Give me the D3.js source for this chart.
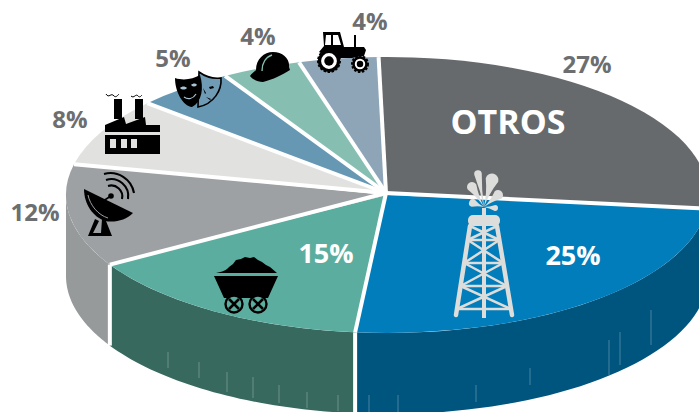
<!DOCTYPE html>
<html><head><meta charset="utf-8">
<script src="https://cdn.jsdelivr.net/npm/d3@7"></script>
<style>html,body{margin:0;padding:0;background:#fff;overflow:hidden}svg{display:block}text{font-family:"Open Sans",sans-serif;font-weight:700}</style>
</head><body><svg id="c" width="699" height="412"></svg>
<script>
const sectors=["Otros","Petróleo","Minería","Telecomunicaciones","Industria","Cultura","Construcción","Agricultura"];
const shares=[27,25,15,12,8,5,4,4];
const topColors=["#676a6c","#007dba","#5bae9f","#9da1a4","#e1e1df","#6698b4","#86bfb2","#8ea4b7"];
const sideColors=["#4a4c4e","#00557e","#37695f","#979a9b","#b5b5b3","#4d7388","#648f86","#6b7b89"];
const labels=["27%","25%","15%","12%","8%","5%","4%","4%"];

const W=699,H=412,cx=387,cy=195,rx=321,ry=138,depth=81;
const svg=d3.select("#c");
const rot=1.5*Math.PI/180;
const pie=d3.pie().sort(null).startAngle(-rot).endAngle(2*Math.PI-rot);
const arcs=pie(shares);
const P=(a,dy=0)=>[cx+rx*Math.sin(a),cy-ry*Math.cos(a)+dy];

// walls of the visible (front) half
const lineGen=d3.line();
const wall=svg.append("g");
arcs.forEach((d,i)=>{
  const a0=Math.max(d.startAngle,Math.PI/2),a1=Math.min(d.endAngle,3*Math.PI/2);
  if(a1<=a0)return;
  const as=d3.range(0,41).map(k=>a0+(a1-a0)*k/40);
  const pts=as.map(a=>P(a)).concat(as.slice().reverse().map(a=>P(a,depth)));
  wall.append("path").attr("d",lineGen(pts)+"Z").attr("fill",sideColors[i]);
});
// faint vertical streaks visible on the walls of the original
[[168,352,368],[199,362,378],[227,372,392],[253,377,398],[279,385,403],[307,392,408],[338,395,411],[369,395,412],[398,395,412],[476,385,402],[530,368,385],[609,340,375],[620,332,365],[651,310,345]].forEach(([x,y1,y2])=>{
  wall.append("line").attr("x1",x).attr("x2",x).attr("y1",y1).attr("y2",y2).attr("stroke","#fff").attr("stroke-opacity",.28).attr("stroke-width",1);
});
arcs.forEach(d=>{
  const a=d.endAngle;
  if(a>Math.PI/2&&a<3*Math.PI/2){
    wall.append("path").attr("d",lineGen([P(a),P(a,depth)])).attr("stroke","#fff").attr("stroke-width",4).attr("fill","none");
  }
});

// top face
const arcGen=d3.arc().innerRadius(0).outerRadius(1);
const topFace=svg.append("g").attr("transform",`translate(${cx},${cy}) scale(${rx},${ry})`);
topFace.selectAll("path").data(arcs).join("path").attr("d",arcGen).attr("fill",(d,i)=>topColors[i]);
const seps=svg.append("g");
arcs.forEach(d=>{
  seps.append("path").attr("d",lineGen([[cx-1,cy-2],P(d.endAngle)])).attr("stroke","#fff").attr("stroke-width",4).attr("fill","none");
});

// labels
const labelPos=[[587,73],[573,265],[326,263],[35,221],[70,128],[173,67],[258,45],[370,30]];
const labelFill=["#6d6e70","#fff","#fff","#6d6e70","#6d6e70","#6d6e70","#6d6e70","#6d6e70"];
const labelSize=[24,27,27,24,24,24,24,24];
labels.forEach((t,i)=>{
  svg.append("text").attr("x",labelPos[i][0]).attr("y",labelPos[i][1]).attr("text-anchor","middle")
    .attr("font-size",labelSize[i]).attr("fill",labelFill[i]).text(t);
});
svg.append("text").attr("x",508).attr("y",134).attr("text-anchor","middle").attr("font-size",34).attr("fill","#fff").text("OTROS");

// ---------- pictograms ----------
const ic=svg.append("g");
const K="#000";
// derrick
const G="#dddddb",der=ic.append("g");
const leg=(y,s)=>s<0?470-14*(y-226)/89:497+15*(y-226)/89;
const ds=(x1,y1,x2,y2,w=3)=>der.append("line").attr("x1",x1).attr("y1",y1).attr("x2",x2).attr("y2",y2).attr("stroke",G).attr("stroke-width",w).attr("stroke-linecap","round");
der.append("rect").attr("x",468).attr("y",215).attr("width",32).attr("height",11).attr("rx",5).attr("fill",G);
der.append("rect").attr("x",482).attr("y",208).attr("width",4).attr("height",110).attr("fill",G);
ds(470,226,456,315,4.5);ds(497,226,512,315,4.5);
const ys=[240,263,286,309];
ys.forEach((y,i)=>{
  ds(leg(y,-1),y,leg(y,1),y,2.5);
  if(i<3){ds(leg(y,-1),y,leg(ys[i+1],1),ys[i+1],2.5);ds(leg(y,1),y,leg(ys[i+1],-1),ys[i+1],2.5);}
});
ds(leg(226,-1),226,leg(240,1),240,2.5);ds(leg(226,1),226,leg(240,-1),240,2.5);
const base=[484,207];
[[478,174,3.8],[472,187,5],[492,180,6.5],[498,195,5],[473,203,4],[495,208,3]].forEach(([x,y,r])=>{
  const a=Math.atan2(y-base[1],x-base[0]),nx=-Math.sin(a)*r,ny=Math.cos(a)*r;
  der.append("path").attr("fill",G).attr("d",`M${base[0]},${base[1]}Q${(x+base[0])/2+nx*.15},${(y+base[1])/2+ny*.15} ${x+nx},${y+ny}A${r},${r} 0 1 0 ${x-nx},${y-ny}Q${(x+base[0])/2-nx*.15},${(y+base[1])/2-ny*.15} ${base[0]},${base[1]}Z`);
});

// mine cart
const cart=ic.append("g");
cart.append("path").attr("fill",K).attr("d","M216,273C222,272 227,270 229,267L233,264L236,260L241,259L245,257L250,258L254,257L258,260L262,262L266,265L270,267L277,273Z");
cart.append("path").attr("fill",K).attr("d","M214,276H278L268,298H224Z");
[234,258].forEach(x=>{
  const w=cart.append("g").attr("transform",`translate(${x},304)`);
  w.append("circle").attr("r",8.5).attr("fill","#5bae9f").attr("stroke",K).attr("stroke-width",2.4);
  w.append("path").attr("d","M-5,-5L5,5M-5,5L5,-5").attr("stroke",K).attr("stroke-width",2.6);
  w.append("circle").attr("r",1.8).attr("fill",K);
});

// satellite dish
const dish=ic.append("g");
dish.append("path").attr("fill",K).attr("d","M84,189L133,213C126,220 115,223 105,221C93,217 84,204 84,189Z");
dish.append("path").attr("fill","none").attr("stroke","#9da1a4").attr("stroke-width",1).attr("d","M88,195C90,205 98,215 108,218");
dish.append("path").attr("fill","none").attr("stroke",K).attr("stroke-width",1.6).attr("d","M103,201L111,196");
dish.append("circle").attr("cx",111).attr("cy",196).attr("r",2.8).attr("fill",K);
dish.append("path").attr("fill","none").attr("stroke",K).attr("stroke-width",2.1).attr("d","M108,186A11,11 0 0 1 122,199M106,180A17,17 0 0 1 128,199M104,174A24,24 0 0 1 134,193");
dish.append("path").attr("fill",K).attr("d","M95,219L88,236H112L106,221L102,219L101,233H93L99,221Z");

// factory
const fac=ic.append("g");
fac.append("rect").attr("x",114).attr("y",99).attr("width",8).attr("height",20).attr("fill",K);
fac.append("rect").attr("x",135).attr("y",99).attr("width",8).attr("height",20).attr("fill",K);
fac.append("path").attr("fill",K).attr("d","M105,125L124,117L126,124L145,117L146,125H160V132H105Z");
fac.append("rect").attr("x",105).attr("y",135).attr("width",55).attr("height",19).attr("fill",K);
[110,121,131].forEach(x=>fac.append("rect").attr("x",x).attr("y",139).attr("width",6).attr("height",9).attr("fill","#e1e1df"));
fac.append("path").attr("fill","none").attr("stroke",K).attr("stroke-width",1).attr("d","M106,94C109,99 111,92 114,96C116,98 118,95 119,94M131,96C134,99 136,93 138,96C140,98 141,96 142,95");

// theatre masks
const mk=ic.append("g");
mk.append("path").attr("fill","#6f9bb5").attr("stroke",K).attr("stroke-width",1.6).attr("d","M199,72C206,77 214,79 221,78C222,90 214,104 198,107Z");
mk.append("path").attr("fill",K).attr("d","M209,87l4,-1l1,2l-4,1ZM203,88l3,5l-1,1ZM206,97l5,2l-1,1Z");
mk.append("path").attr("fill",K).attr("d","M175,78C184,81 193,79 200,75C204,88 202,102 192,107C183,106 175,92 175,78Z");
mk.append("path").attr("fill","#a9c4d2").attr("d","M180,88c2,-2 5,-2 7,0c-2,2 -5,2 -7,0ZM191,85c2,-2 5,-2 6,0c-2,2 -4,2 -6,0Z");
mk.append("path").attr("fill","none").attr("stroke","#a9c4d2").attr("stroke-width",1.2).attr("d","M184,97C188,100 193,99 196,94");

// hard hat
const hat=ic.append("g");
hat.append("path").attr("fill",K).attr("d","M256,70C256,59 264,52 273,52C283,52 290,59 289,67L290,70C284,74 272,80 263,82C257,82 252,79 250,76C251,74 254,72 256,70Z");
hat.append("path").attr("fill","none").attr("stroke","#86bfb2").attr("stroke-width",1.4).attr("d","M262,71C262,63 266,57 272,55");

// tractor
const tr=ic.append("g");
tr.append("path").attr("fill",K).attr("d","M323,32H340L344,47H364L366,50L364,56L352,58H330L319,52L324,46Z");
tr.append("path").attr("fill","#fff").attr("d","M326,35H331V45H325ZM333,35H338L341,45H333Z");
tr.append("rect").attr("x",354).attr("y",35).attr("width",2).attr("height",12).attr("fill",K);
[[329,61,9.5,3.2],[360,64,6.5,2.6]].forEach(([x,y,r,s])=>{
  tr.append("circle").attr("cx",x).attr("cy",y).attr("r",r+1).attr("fill","#fff");
  tr.append("circle").attr("cx",x).attr("cy",y).attr("r",r).attr("fill","none").attr("stroke",K).attr("stroke-width",s);
  tr.append("circle").attr("cx",x).attr("cy",y).attr("r",r+1.4).attr("fill","none").attr("stroke",K).attr("stroke-width",2.2).attr("stroke-dasharray","2.4 1.6");
  tr.append("circle").attr("cx",x).attr("cy",y).attr("r",r*.5).attr("fill",K);
});
</script></body></html>
